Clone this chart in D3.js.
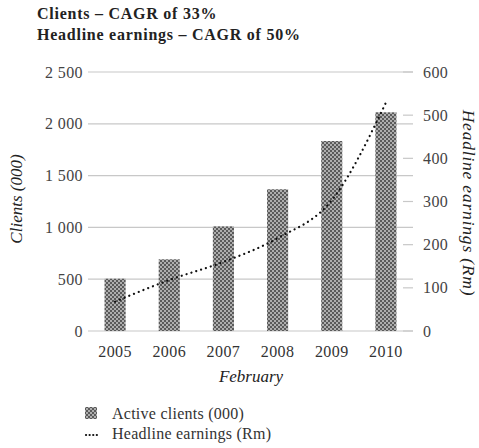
<!DOCTYPE html>
<html><head><meta charset="utf-8">
<script src="https://cdn.jsdelivr.net/npm/d3@7"></script>
<style>body{margin:0;background:#fff}svg{display:block}</style>
</head><body>
<script>
const years = ["2005","2006","2007","2008","2009","2010"];
const clients = [505, 692, 1010, 1368, 1834, 2111];
const earnings = [68, 118, 160, 215, 303, 529];
const leftTicks = [0, 500, 1000, 1500, 2000, 2500];
const rightTicks = [0, 100, 200, 300, 400, 500, 600];
const leftTickLabels = ["0","500","1 000","1 500","2 000","2 500"];
const titles = ["Clients \u2013 CAGR of 33%", "Headline earnings \u2013 CAGR of 50%"];
const legendLabels = ["Active clients (000)", "Headline earnings (Rm)"];

const W = 479, H = 448;
const svg = d3.select("body").append("svg").attr("width", W).attr("height", H);
const serif = "'Liberation Serif', 'DejaVu Serif', serif";

const defs = svg.append("defs");
const pat = defs.append("pattern").attr("id","chk").attr("patternUnits","userSpaceOnUse")
  .attr("width",4).attr("height",4);
pat.append("rect").attr("width",4).attr("height",4).attr("fill","#aeaeae");
pat.append("rect").attr("x",0).attr("y",0).attr("width",2).attr("height",2).attr("fill","#5a5a5a");
pat.append("rect").attr("x",2).attr("y",2).attr("width",2).attr("height",2).attr("fill","#5a5a5a");

const x0 = 88, x1 = 413, yTop = 72, yBot = 331;
const x = d3.scaleBand().domain(years).range([x0, x1]).paddingInner(0.61).paddingOuter(0.305);
const yL = d3.scaleLinear().domain([0, 2500]).range([yBot, yTop]);
const yR = d3.scaleLinear().domain([0, 600]).range([yBot, yTop]);

// titles
svg.selectAll("text.title").data(titles).join("text")
  .attr("x", 37).attr("y", (d,i)=>19 + i*21)
  .attr("font-family", serif).attr("font-weight","bold").attr("font-size", 16)
  .attr("letter-spacing", 0.75)
  .attr("fill","#222").text(d=>d);

// gridlines (left axis)
svg.append("g").selectAll("line").data(leftTicks).join("line")
  .attr("x1", x0).attr("x2", x1).attr("y1", d=>yL(d)).attr("y2", d=>yL(d))
  .attr("stroke","#c8c8c8").attr("stroke-width",1.2);

// left axis labels
const gL = svg.append("g").attr("transform",`translate(${x0},0)`)
  .call(d3.axisLeft(yL).tickValues(leftTicks).tickSize(0).tickPadding(5)
    .tickFormat((d,i)=>leftTickLabels[i]));
gL.select(".domain").remove();
gL.selectAll("text").attr("font-family", serif).attr("font-size", 16).attr("letter-spacing",0.4).attr("fill","#444");

// right axis
const gR = svg.append("g").attr("transform",`translate(${x1},0)`)
  .call(d3.axisRight(yR).tickValues(rightTicks).tickSize(0).tickPadding(10));
gR.select(".domain").remove();
gR.selectAll("text").attr("font-family", serif).attr("font-size", 16).attr("letter-spacing",0.4).attr("fill","#444");
svg.append("g").selectAll("line").data(rightTicks).join("line")
  .attr("x1", x1-10).attr("x2", x1).attr("y1", d=>yR(d)).attr("y2", d=>yR(d))
  .attr("stroke","#c8c8c8").attr("stroke-width",1.2);

// bars
svg.append("g").selectAll("rect").data(years).join("rect")
  .attr("x", d=>x(d)).attr("width", x.bandwidth())
  .attr("y", (d,i)=>yL(clients[i])).attr("height", (d,i)=>yBot - yL(clients[i]))
  .attr("fill","url(#chk)");

// line
const line = d3.line().x((d,i)=>x(years[i]) + x.bandwidth()/2).y(d=>yR(d)).curve(d3.curveMonotoneX);
svg.append("path").datum(earnings).attr("d", line).attr("fill","none")
  .attr("stroke","#111").attr("stroke-width",2.2).attr("stroke-linecap","round")
  .attr("stroke-dasharray","0.1 5");

// x axis labels
const gX = svg.append("g").attr("transform",`translate(0,${yBot})`)
  .call(d3.axisBottom(x).tickSize(0).tickPadding(19));
gX.select(".domain").remove();
gX.selectAll("text").attr("font-family", serif).attr("font-size", 16).attr("letter-spacing",0.4).attr("fill","#333")
  .attr("dy","0.45em");

// axis titles
svg.append("text").attr("x", 251).attr("y", 382).attr("text-anchor","middle")
  .attr("font-family", serif).attr("font-style","italic").attr("font-size",17).attr("fill","#222")
  .text("February");
svg.append("text").attr("transform","translate(22,199) rotate(-90)").attr("text-anchor","middle")
  .attr("font-family", serif).attr("font-style","italic").attr("font-size",17).attr("fill","#222")
  .text("Clients (000)");
svg.append("text").attr("transform","translate(463,203) rotate(90)").attr("text-anchor","middle")
  .attr("font-family", serif).attr("font-style","italic").attr("font-size",17.5).attr("letter-spacing",0.8).attr("fill","#222")
  .text("Headline earnings (Rm)");

// legend
const lg = svg.append("g");
lg.append("rect").attr("x",85).attr("y",407).attr("width",12).attr("height",12).attr("fill","url(#chk)");
lg.append("line").attr("x1",86).attr("x2",97).attr("y1",435).attr("y2",435)
  .attr("stroke","#111").attr("stroke-width",2.2).attr("stroke-linecap","round").attr("stroke-dasharray","0.1 3.5");
lg.selectAll("text").data(legendLabels).join("text")
  .attr("x",112).attr("y",(d,i)=>419 + i*20)
  .attr("font-family", serif).attr("font-size",16).attr("letter-spacing",0.25).attr("fill","#333").text(d=>d);
</script>
</body></html>
